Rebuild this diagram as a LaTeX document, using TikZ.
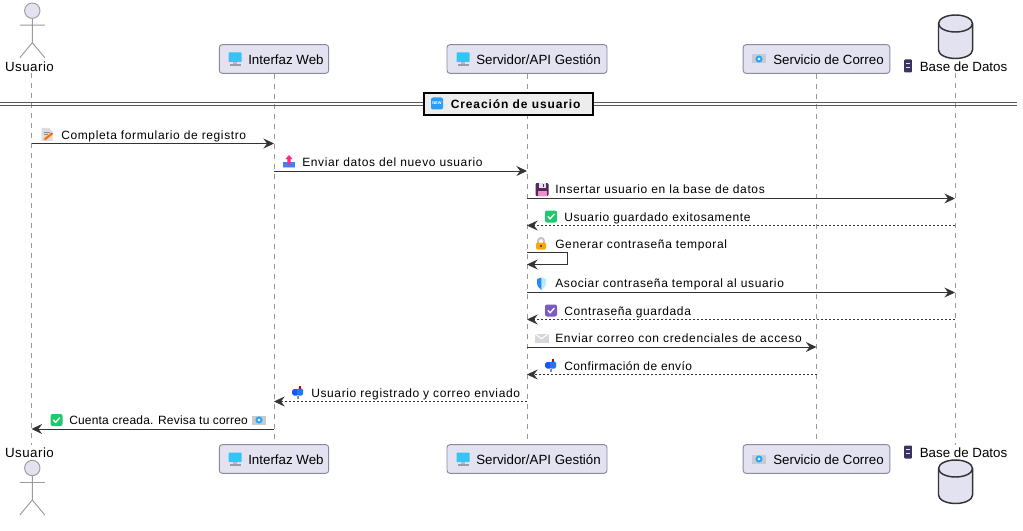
\documentclass[tikz,border=0pt]{standalone}
\usepackage{fontspec}
\setmainfont{Liberation Sans}
\usetikzlibrary{arrows.meta,calc}
\definecolor{boxfill}{HTML}{E2E2F0}
\definecolor{boxline}{HTML}{8A8A98}
\definecolor{arrowc}{HTML}{333333}
\definecolor{lifec}{HTML}{999999}
\definecolor{scrblue}{HTML}{35C4F5}
\definecolor{figgray}{HTML}{9A9AA0}
\definecolor{okgreen}{HTML}{1FC96E}
\definecolor{okpurple}{HTML}{7A5CC8}
\definecolor{dbdark}{HTML}{3A3560}
\tikzset{
  x=0.75pt,y=-0.75pt,
  head/.style={draw=boxline,fill=boxfill,rounded corners=2.2pt,line width=.7pt,minimum height=21.5pt,inner sep=0pt,font=\fontsize{10}{12}\selectfont},
  msgtext/.style={anchor=base west,inner sep=0pt,font=\fontsize{9}{11}\selectfont\addfontfeature{LetterSpace=5.2}},
  acttext/.style={anchor=base,inner sep=0pt,font=\fontsize{10}{12}\selectfont},
  life/.style={draw=lifec,line width=.7pt,dash pattern=on 3.75pt off 3.75pt},
  msg/.style={draw=arrowc,line width=.75pt,-{Stealth[length=8pt,width=7.5pt,inset=2.8pt]}},
  ret/.style={msg,dash pattern=on 1.5pt off 1.5pt},
  stick/.style={draw=figgray,line width=.7pt},
}
% icons, centred on the given point
\newcommand{\icComp}[2]{\begin{scope}[shift={(#1,#2)}]
  \fill[scrblue,rounded corners=.5pt] (-6.5,-6.5) rectangle (6.5,3);
  \fill[figgray!70] (-2,3) rectangle (2,5);
  \fill[figgray] (-5.5,5) rectangle (5.5,7);
\end{scope}}
\newcommand{\icMail}[2]{\begin{scope}[shift={(#1,#2)}]
  \fill[boxline!45] (-7,-4.5) rectangle (7,4.5);
  \fill[scrblue!85!blue] (0,0) circle (3.6);
  \fill[white] (0,0) circle (1.4);
\end{scope}}
\newcommand{\icDb}[2]{\begin{scope}[shift={(#1,#2)}]
  \fill[dbdark,rounded corners=.6pt] (-3.8,-6.5) rectangle (3.8,6.5);
  \fill[boxfill] (-1.6,-3.4) rectangle (1.6,-2.4);
  \fill[boxfill] (-1.6,1) rectangle (1.6,2);
\end{scope}}
\newcommand{\icNew}[2]{\begin{scope}[shift={(#1,#2)}]
  \fill[scrblue!80!blue,rounded corners=1.5pt] (-6,-6) rectangle (6,6);
  \node[inner sep=0pt,text=white,font=\fontsize{3}{3}\selectfont\bfseries] at (0,0) {NEW};
\end{scope}}
\newcommand{\icMemo}[2]{\begin{scope}[shift={(#1,#2)}]
  \fill[boxline!30] (-5.5,-6.5) -- (2,-6.5) -- (5.5,-3) -- (5.5,6.5) -- (-5.5,6.5) -- cycle;
  \draw[boxline,line width=.4pt] (-3.5,-2.5) -- (3,-2.5) (-3.5,0) -- (1,0);
  \draw[orange!90!red,line width=1.7pt] (-2.5,5) -- (4.5,-.5);
  \fill[red!60!orange] (3.6,-1.2) -- (5.8,-1.6) -- (5.2,.4) -- cycle;
\end{scope}}
\newcommand{\icInbox}[2]{\begin{scope}[shift={(#1,#2)}]
  \fill[scrblue!55!blue!85] (-6,.5) rectangle (6,5);
  \fill[boxline!50] (-6,5) rectangle (6,6.5);
  \fill[red!55!magenta!85] (-1.7,2.8) rectangle (1.7,-2.5) (-3.5,-2.5) -- (0,-6.5) -- (3.5,-2.5) -- cycle;
\end{scope}}
\newcommand{\icFloppy}[2]{\begin{scope}[shift={(#1,#2)}]
  \fill[dbdark!80!purple,rounded corners=.8pt] (-6.5,-6.5) rectangle (6.5,6.5);
  \fill[boxfill] (-3.5,-6.5) rectangle (3.5,-2);
  \fill[dbdark] (.8,-5.8) rectangle (2.4,-2.8);
  \fill[magenta!45!white] (-4.5,1) rectangle (4.5,6.5);
\end{scope}}
\newcommand{\icCheck}[3]{\begin{scope}[shift={(#1,#2)}]
  \fill[#3,rounded corners=1.5pt] (-6,-6) rectangle (6,6);
  \draw[white,line width=1pt,line cap=round,line join=round] (-3,0) -- (-1,2.4) -- (3.2,-2.2);
\end{scope}}
\newcommand{\icLock}[2]{\begin{scope}[shift={(#1,#2)}]
  \draw[figgray!60,line width=1.5pt] (-3,0) -- (-3,-2.5) arc[start angle=180,end angle=360,radius=3] -- (3,0);
  \fill[orange!70!yellow,rounded corners=1pt] (-5,-1) rectangle (5,6);
  \fill[black!70] (-.8,1) rectangle (.8,3.8);
\end{scope}}
\newcommand{\icShield}[2]{\begin{scope}[shift={(#1,#2)}]
  \fill[blue!30!scrblue] (0,-6) .. controls (-1.5,-5.3) and (-3,-4.8) .. (-4.5,-4.5) -- (-4.5,-1) .. controls (-4.5,2.5) and (-2.5,5) .. (0,6.5) -- cycle;
  \fill[scrblue!35] (0,-6) .. controls (1.5,-5.3) and (3,-4.8) .. (4.5,-4.5) -- (4.5,-1) .. controls (4.5,2.5) and (2.5,5) .. (0,6.5) -- cycle;
\end{scope}}
\newcommand{\icEnv}[2]{\begin{scope}[shift={(#1,#2)}]
  \fill[boxline!35] (-7,-4.5) rectangle (7,4.5);
  \draw[white,line width=.8pt] (-7,-4.5) -- (0,.8) -- (7,-4.5);
\end{scope}}
\newcommand{\icBox}[2]{\begin{scope}[shift={(#1,#2)}]
  \fill[blue!55!scrblue,rounded corners=1.4pt] (-5.5,-3.5) rectangle (1.5,3);
  \fill[blue!40!scrblue,rounded corners=1pt] (-.5,-4) rectangle (5.5,3);
  \fill[boxline] (-1,3) rectangle (1.5,6.5);
  \fill[red!80!black] (1.5,-6.5) rectangle (3.5,-4);
\end{scope}}
\newcommand{\actorfig}[2]{\begin{scope}[shift={(#1,#2)}]
  \draw[stick,fill=boxfill] (0,0) circle (7.7);
  \draw[stick] (0,7.7) -- (0,32) (-12.5,14.5) -- (12.5,14.5) (0,32) -- (-12.5,47) (0,32) -- (12.5,47);
\end{scope}}
\newcommand{\dbfig}[2]{\begin{scope}[shift={(#1,#2)}]
  \draw[draw=black!80,fill=boxfill,line width=1.1pt] (-17,8.5) -- (-17,35) arc[x radius=17,y radius=8.5,start angle=180,end angle=0] -- (17,8.5) arc[x radius=17,y radius=8.5,start angle=0,end angle=-180] -- cycle;
  \draw[draw=black!80,line width=1.1pt] (-17,8.5) arc[x radius=17,y radius=8.5,start angle=180,end angle=0];
\end{scope}}
\begin{document}
\begin{tikzpicture}
\useasboundingbox (0,0) rectangle (1023,531);
\fill[white] (0,0) rectangle (1023,531);
% row coordinates
\coordinate (r1) at (0,143.5); \coordinate (r2) at (0,171); \coordinate (r3) at (0,198.5);
\coordinate (r4) at (0,225.5); \coordinate (r5) at (0,252.5); \coordinate (r5b) at (0,264.5);
\coordinate (r6) at (0,292.5); \coordinate (r7) at (0,319.5); \coordinate (r8) at (0,347);
\coordinate (r9) at (0,374.5); \coordinate (r10) at (0,401.5); \coordinate (r11) at (0,429);
% lifeline ends
\coordinate (uT) at (31.5,73); \coordinate (uB) at (31.5,445);
\coordinate (dT) at (955,73);  \coordinate (dB) at (955,445);
% heads
\node[head,minimum width=82pt] (wT) at (274,59) {\phantom{x}};
\node[head,minimum width=82pt] (wB) at (274,459) {\phantom{x}};
\node[head,minimum width=120pt] (sT) at (527,59) {\phantom{x}};
\node[head,minimum width=120pt] (sB) at (527,459) {\phantom{x}};
\node[head,minimum width=110pt] (cT) at (816.5,59) {\phantom{x}};
\node[head,minimum width=110pt] (cB) at (816.5,459) {\phantom{x}};
% lifelines
\draw[life] (uT) -- (uB);
\draw[life] (wT) -- (wB);
\draw[life] (sT) -- (sB);
\draw[life] (cT) -- (cB);
\draw[life] (dT) -- (dB);
% head labels
\foreach \yy/\ss in {64.2/T,464.2/B}{
  \node[acttext,anchor=base west] (wl\ss) at (248,\yy) {Interfaz Web};
  \node[acttext,anchor=base west] (sl\ss) at (476,\yy) {Servidor/API Gestión};
  \node[acttext,anchor=base west] (cl\ss) at (773,\yy) {Servicio de Correo};
}
\icComp{235}{59}\icComp{235}{459}
\icComp{463}{59}\icComp{463}{459}
\icMail{759}{59}\icMail{759}{459}
% actors and database
\actorfig{32.3}{10.7}
\actorfig{32.3}{468}
\node[acttext,font=\fontsize{10}{12}\selectfont\addfontfeature{LetterSpace=3.5}] (ulT) at (29.5,71.5) {Usuario};
\node[acttext,font=\fontsize{10}{12}\selectfont\addfontfeature{LetterSpace=3.5}] (ulB) at (29.5,457.5) {Usuario};
\dbfig{955.5}{15}
\dbfig{955.5}{460}
\icDb{908}{66}\icDb{908}{452}
\node[acttext] (dlT) at (963.5,71.5) {Base de Datos};
\node[acttext] (dlB) at (963.5,457.5) {Base de Datos};
% divider
\draw[draw=black!65,line width=.75pt] (0,102.5) -- (1017,102.5) (0,105.8) -- (1017,105.8);
\node[draw=black,fill=black!7,line width=1.5pt,minimum width=127pt,minimum height=15.8pt,inner sep=0pt] (sec) at (508.5,104) {};
\icNew{437}{103.5}
\node[msgtext,font=\fontsize{9}{11}\selectfont\bfseries\addfontfeature{LetterSpace=7.5}] (sect) at (450.5,108.3) {Creación de usuario};
% messages
\draw[msg] (uT|-r1) -- (wT|-r1);
\draw[msg] (wT|-r2) -- (sT|-r2);
\draw[msg] (sT|-r3) -- (dT|-r3);
\draw[ret] (dT|-r4) -- (sT|-r4);
\draw[msg] (sT|-r5) -- ++(40,0) |- (sT|-r5b);
\draw[msg] (sT|-r6) -- (dT|-r6);
\draw[ret] (dT|-r7) -- (sT|-r7);
\draw[msg] (sT|-r8) -- (cT|-r8);
\draw[ret] (cT|-r9) -- (sT|-r9);
\draw[ret] (sT|-r10) -- (wT|-r10);
\draw[msg] (wT|-r11) -- (uT|-r11);
% message labels
\node[msgtext] (t1) at (61,139.3) {Completa formulario de registro};
\icMemo{47}{134.5}
\node[msgtext] (t2) at (302,166.3) {Enviar datos del nuevo usuario};
\icInbox{289}{161.5}
\node[msgtext] (t3) at (555,193.8) {Insertar usuario en la base de datos};
\icFloppy{542}{189.5}
\node[msgtext] (t4) at (564,221.3) {Usuario guardado exitosamente};
\icCheck{551}{216.5}{okgreen}
\node[msgtext] (t5) at (555,248.3) {Generar contraseña temporal};
\icLock{541}{243.5}
\node[msgtext] (t6) at (555,287.8) {Asociar contraseña temporal al usuario};
\icShield{541.5}{283.5}
\node[msgtext] (t7) at (564,315.3) {Contraseña guardada};
\icCheck{551}{310.5}{okpurple}
\node[msgtext,font=\fontsize{9}{11}\selectfont\addfontfeature{LetterSpace=5.8}] (t8) at (555,342.3) {Enviar correo con credenciales de acceso};
\icEnv{541.5}{338}
\node[msgtext,font=\fontsize{9}{11}\selectfont\addfontfeature{LetterSpace=3.6}] (t9) at (564,370.3) {Confirmación de envío};
\icBox{550.5}{365.5}
\node[msgtext] (t10) at (311,397.3) {Usuario registrado y correo enviado};
\icBox{297.5}{392.5}
\node[msgtext,font=\fontsize{9}{11}\selectfont\addfontfeature{LetterSpace=1.5}] (t11) at (69,424.3) {Cuenta creada. Revisa tu correo};
\icCheck{56.5}{420}{okgreen}
\icMail{259}{420}
\end{tikzpicture}
\end{document}
